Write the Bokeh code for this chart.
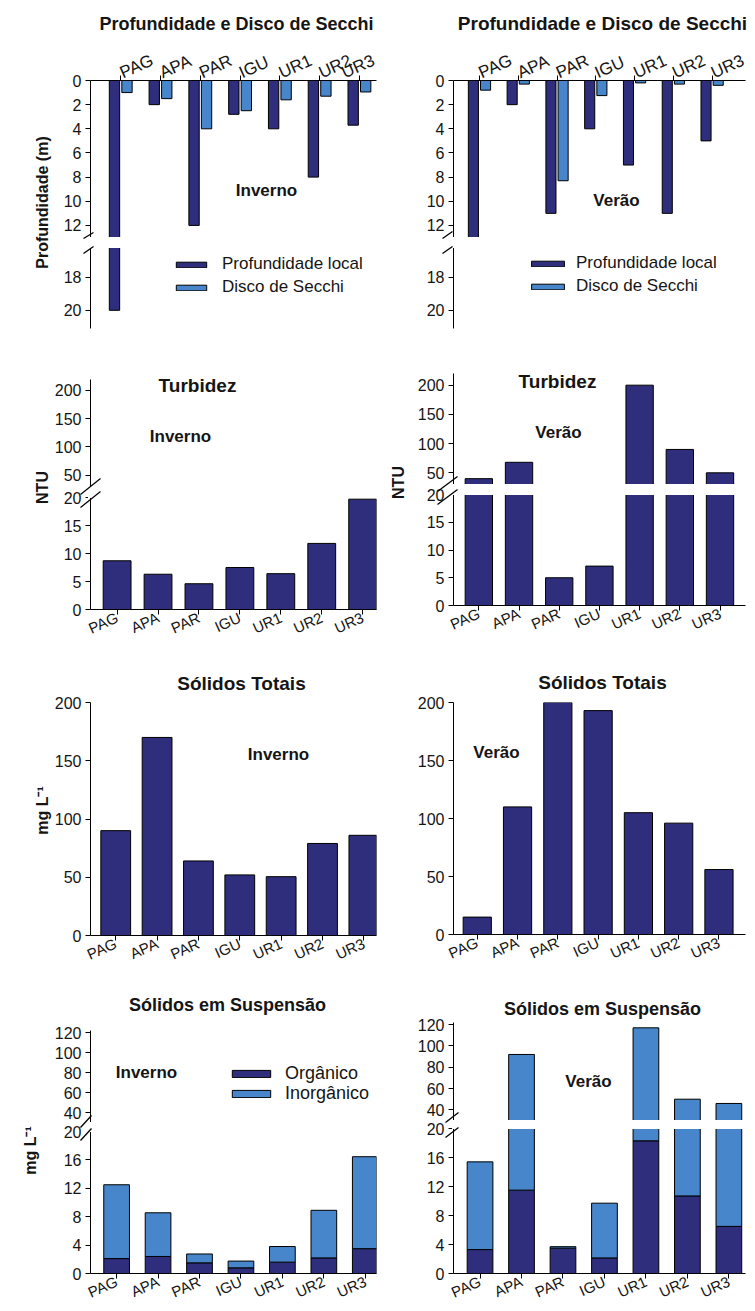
import math
from bokeh.plotting import figure
from bokeh.models import (Range1d, FixedTicker, Label, Legend, LegendItem, ColumnDataSource)
from bokeh.layouts import row, column
from bokeh.transform import dodge
from bokeh.embed import file_html
from bokeh.resources import INLINE

# ---------------- data ----------------
stations = ["PAG", "APA", "PAR", "IGU", "UR1", "UR2", "UR3"]

depth_inverno = [20.0, 2.0, 12.0, 2.8, 4.0, 8.0, 3.7]
secchi_inverno = [1.0, 1.5, 4.0, 2.5, 1.6, 1.3, 0.95]
depth_verao = [13.0, 2.0, 11.0, 4.0, 7.0, 11.0, 5.0]
secchi_verao = [0.8, 0.3, 8.3, 1.25, 0.2, 0.3, 0.4]

turbidez_inverno = [8.7, 6.3, 4.6, 7.5, 6.4, 11.8, 19.7]
turbidez_verao = [40.0, 68.0, 5.0, 7.1, 200.0, 90.0, 50.0]

solidos_totais_inverno = [90, 170, 64, 52, 50.5, 79, 86]
solidos_totais_verao = [15, 110, 200, 193, 105, 96, 56]

organico_inverno = [2.1, 2.4, 1.5, 0.8, 1.6, 2.2, 3.5]
inorganico_inverno = [10.4, 6.15, 1.25, 0.95, 2.2, 6.7, 12.95]
organico_verao = [3.3, 11.5, 3.5, 2.15, 18.3, 10.7, 6.5]
inorganico_verao = [12.1, 80.5, 0.2, 7.55, 98.7, 39.3, 39.5]

depth_ticks_up = [0, 2, 4, 6, 8, 10, 12]
depth_ticks_lo = [18, 20]
turb_ticks_up = [50, 100, 150, 200]
turb_ticks_lo = [0, 5, 10, 15, 20]
st_ticks = [0, 50, 100, 150, 200]
ss_ticks_up = [40, 60, 80, 100, 120]
ss_ticks_lo = [0, 4, 8, 12, 16, 20]

# ---------------- style ----------------
DARK = "#2e2e7c"
LIGHT = "#4886cc"
FONT = "Liberation Sans"
TXT = "#151515"
XANG = 0.42
PAGE_W, PAGE_H = 755, 1311
xpos = list(range(len(stations)))


def style_y(p, ticks):
    for ax in p.yaxis:
        ax.ticker = FixedTicker(ticks=ticks)
        ax.minor_tick_line_color = None
        ax.major_tick_in = 0
        ax.major_tick_out = 5
        ax.major_label_standoff = 4
        ax.axis_line_color = "black"
        ax.major_tick_line_color = "black"
        ax.major_label_text_font = FONT
        ax.major_label_text_font_size = "16px"
        ax.major_label_text_color = TXT


def style_x(p, size):
    for ax in p.xaxis:
        ax.ticker = FixedTicker(ticks=xpos)
        ax.major_label_overrides = {i: s for i, s in zip(xpos, stations)}
        ax.major_label_orientation = XANG
        ax.minor_tick_line_color = None
        ax.major_tick_in = 0
        ax.major_tick_out = 5
        ax.major_label_standoff = 2
        ax.axis_line_color = "black"
        ax.major_tick_line_color = "black"
        ax.major_label_text_font = FONT
        ax.major_label_text_font_size = f"{size}px"
        ax.major_label_text_color = TXT


def build_column(col_w, specs):
    figs, order = {}, []
    for s in specs:
        fw = col_w - s["ml"] - s["mr"]
        x0 = s["xs"]
        x1 = x0 + fw / s["sp"]
        p = figure(width=col_w, height=s["h"],
                   x_range=Range1d(x0, x1), y_range=Range1d(*s["yr"]),
                   output_backend="svg", toolbar_location=None,
                   x_axis_location=s.get("xloc"), y_axis_location="left",
                   min_border_left=s["ml"], min_border_right=s["mr"],
                   min_border_top=s["mt"], min_border_bottom=s["mb"])
        p.border_fill_color = None
        p.background_fill_color = None
        p.outline_line_color = None
        for g in p.grid:
            g.visible = False
        style_y(p, s["yt"])
        if s.get("xloc"):
            style_x(p, 17 if s["xloc"] == "above" else 15)
        figs[s["name"]] = p
        order.append(p)
    return figs, order


# ---------------- layout specs (pixels) ----------------
left_specs = [
    dict(name="dU", h=237, mt=80, mb=0, ml=87, mr=1, xs=-0.76, sp=40.2,
         yr=(13, 0), yt=depth_ticks_up, xloc="above"),
    dict(name="dL", h=103, mt=10, mb=12, ml=87, mr=1, xs=-0.76, sp=40.2,
         yr=(21.1, 16.2), yt=depth_ticks_lo),
    dict(name="tU", h=146, mt=39, mb=0, ml=87, mr=0, xs=-0.65, sp=41.5,
         yr=(30, 219), yt=turb_ticks_up),
    dict(name="tL", h=174, mt=11, mb=51, ml=87, mr=0, xs=-0.65, sp=41.5,
         yr=(0, 20), yt=turb_ticks_lo, xloc="below"),
    dict(name="S", h=315, mt=42, mb=40, ml=90, mr=0, xs=-0.61, sp=41.5,
         yr=(0, 200), yt=st_ticks, xloc="below"),
    dict(name="sU", h=147, mt=55, mb=0, ml=82, mr=0, xs=-0.63, sp=42.75,
         yr=(30, 122), yt=ss_ticks_up),
    dict(name="sL", h=189, mt=9, mb=35, ml=82, mr=0, xs=-0.63, sp=42.75,
         yr=(0, 20), yt=ss_ticks_lo, xloc="below"),
]
right_specs = [
    dict(name="dU", h=237, mt=80, mb=0, ml=70, mr=3, xs=-0.67, sp=40.5,
         yr=(13, 0), yt=depth_ticks_up, xloc="above"),
    dict(name="dL", h=103, mt=10, mb=12, ml=70, mr=3, xs=-0.67, sp=40.5,
         yr=(21.1, 16.2), yt=depth_ticks_lo),
    dict(name="tU", h=144, mt=33, mb=0, ml=68, mr=10, xs=-0.63, sp=41.3,
         yr=(30, 220), yt=turb_ticks_up),
    dict(name="tL", h=176, mt=10, mb=55, ml=68, mr=10, xs=-0.63, sp=41.3,
         yr=(0, 20), yt=turb_ticks_lo, xloc="below"),
    dict(name="S", h=315, mt=42, mb=41, ml=76, mr=3, xs=-0.59, sp=41.25,
         yr=(0, 200), yt=st_ticks, xloc="below"),
    dict(name="sU", h=145, mt=47, mb=0, ml=74, mr=3, xs=-0.64, sp=42.75,
         yr=(30, 122), yt=ss_ticks_up),
    dict(name="sL", h=191, mt=8, mb=38, ml=74, mr=3, xs=-0.64, sp=42.75,
         yr=(0, 20), yt=ss_ticks_lo, xloc="below"),
]

LF, LO = build_column(377, left_specs)
RF, RO = build_column(378, right_specs)


def draw_panels(F, depth, secchi, turb, st, org, inorg, st_w):
    src_d = ColumnDataSource(dict(x=xpos, depth=depth, secchi=secchi))
    for k in ("dU", "dL"):
        p = F[k]
        p.vbar(x=dodge("x", -0.157, range=p.x_range), width=0.26, top=0, bottom="depth",
               source=src_d, fill_color=DARK, line_color="black", line_width=1)
        p.vbar(x=dodge("x", 0.157, range=p.x_range), width=0.26, top=0, bottom="secchi",
               source=src_d, fill_color=LIGHT, line_color="black", line_width=1)
    src_t = ColumnDataSource(dict(x=xpos, turb=turb))
    for k in ("tU", "tL"):
        F[k].vbar(x="x", width=0.68, top="turb", bottom=0, source=src_t,
                  fill_color=DARK, line_color="black", line_width=1)
    src_s = ColumnDataSource(dict(x=xpos, st=st))
    F["S"].vbar(x="x", width=st_w, top="st", bottom=0, source=src_s,
                fill_color=DARK, line_color="black", line_width=1)
    src_ss = ColumnDataSource(dict(x=xpos, org=org, inorg=inorg))
    for k in ("sU", "sL"):
        F[k].vbar_stack(["org", "inorg"], x="x", width=0.62, source=src_ss,
                        fill_color=[DARK, LIGHT], line_color="black", line_width=1)


draw_panels(LF, depth_inverno, secchi_inverno, turbidez_inverno,
            solidos_totais_inverno, organico_inverno, inorganico_inverno, 0.72)
draw_panels(RF, depth_verao, secchi_verao, turbidez_verao,
            solidos_totais_verao, organico_verao, inorganico_verao, 0.70)

# ---------------- transparent overlay for texts, breaks, legends ----------------
ov = figure(width=PAGE_W, height=PAGE_H, x_range=Range1d(0, PAGE_W), y_range=Range1d(PAGE_H, 0),
            output_backend="svg", toolbar_location=None, title=None,
            x_axis_location=None, y_axis_location=None, min_border=0,
            margin=(-PAGE_H, 0, 0, 0), styles={"position": "relative", "z-index": "5"})
ov.border_fill_color = None
ov.background_fill_color = None
ov.outline_line_color = None
for g in ov.grid:
    g.visible = False

# white gaps of the broken axes (cover the cut edges of the bars)
gap_left = [87.5, 447.5, 87.5, 445.5, 82.5, 451.5]
gap_right = [377, 755, 377, 746, 377, 755]
gap_top = [236.5, 236.5, 485.5, 483.5, 1121.5, 1119.5]
gap_bottom = [247.5, 247.5, 497.5, 494.5, 1131.5, 1128.5]
ov.quad(left=gap_left, right=gap_right, top=gap_top, bottom=gap_bottom,
        fill_color="white", line_color=None)

# axis-break slashes
brk_x0 = [83, 83, 442, 442, 80, 80, 437, 437, 80, 80, 445, 445]
brk_y0 = [238, 253, 238, 253, 494, 507, 491, 504, 1127, 1140, 1122, 1137]
brk_x1 = [93, 93, 452, 452, 100, 100, 457, 457, 91, 91, 458, 458]
brk_y1 = [232, 246, 231, 246, 478, 491, 476, 489, 1115, 1128, 1112, 1127]
ov.segment(x0=brk_x0, y0=brk_y0, x1=brk_x1, y1=brk_y1, line_color="black", line_width=1.3)


def add_text(X, Y, text, size, bold=True, angle=0.0):
    ov.add_layout(Label(x=X, y=Y, text=text, text_font=FONT, text_font_size=f"{size}px",
                        text_font_style="bold" if bold else "normal",
                        text_align="center", text_baseline="middle",
                        angle=angle, text_color=TXT))


add_text(236, 23, "Profundidade e Disco de Secchi", 18)
add_text(266, 190, "Inverno", 17)
add_text(42, 202, "Profundidade (m)", 16, angle=math.pi / 2)
add_text(197, 385, "Turbidez", 19)
add_text(180, 436, "Inverno", 17)
add_text(42, 487, "NTU", 16, angle=math.pi / 2)
add_text(241, 683, "Sólidos Totais", 19)
add_text(278, 754, "Inverno", 17)
add_text(42, 810, "mg L⁻¹", 16, angle=math.pi / 2)
add_text(227, 1004, "Sólidos em Suspensão", 18)
add_text(146, 1072, "Inverno", 17)
add_text(30, 1150, "mg L⁻¹", 16, angle=math.pi / 2)

add_text(602, 23, "Profundidade e Disco de Secchi", 19)
add_text(616, 200, "Verão", 17)
add_text(557, 381, "Turbidez", 19)
add_text(558, 432, "Verão", 17)
add_text(398, 482, "NTU", 16, angle=math.pi / 2)
add_text(602, 682, "Sólidos Totais", 19)
add_text(496, 752, "Verão", 17)
add_text(602, 1008, "Sólidos em Suspensão", 18)
add_text(588, 1081, "Verão", 17)

# legend proxies: hidden renderers that only lend their style to the legends
px_dark = ov.vbar(x=[0], top=[0], bottom=[0], width=1, fill_color=DARK,
                  line_color="black", line_width=1, visible=False)
px_light = ov.vbar(x=[0], top=[0], bottom=[0], width=1, fill_color=LIGHT,
                   line_color="black", line_width=1, visible=False)


def add_legend_item(label, rend, X, Y, gw, gh, standoff, size):
    lh = 20
    leg = Legend(items=[LegendItem(label=label, renderers=[rend])],
                 location=(X, PAGE_H - (Y + lh / 2)),
                 padding=0, margin=0, spacing=0, border_line_color=None,
                 background_fill_alpha=0, glyph_width=gw, glyph_height=gh,
                 label_standoff=standoff, label_height=lh,
                 label_text_font=FONT, label_text_font_size=f"{size}px",
                 label_text_color=TXT)
    ov.add_layout(leg)


add_legend_item("Profundidade local", px_dark, 172, 264, 38, 7, 12, 17)
add_legend_item("Disco de Secchi", px_light, 172, 287, 38, 7, 12, 17)
add_legend_item("Profundidade local", px_dark, 527, 263, 41, 7, 8, 17)
add_legend_item("Disco de Secchi", px_light, 527, 286, 41, 7, 8, 17)
add_legend_item("Orgânico", px_dark, 227, 1074, 48, 9, 10, 18)
add_legend_item("Inorgânico", px_light, 227, 1094, 48, 9, 10, 18)

layout = column(row(column(*LO), column(*RO)), ov)

open("out.html", "w").write(file_html(layout, INLINE))
